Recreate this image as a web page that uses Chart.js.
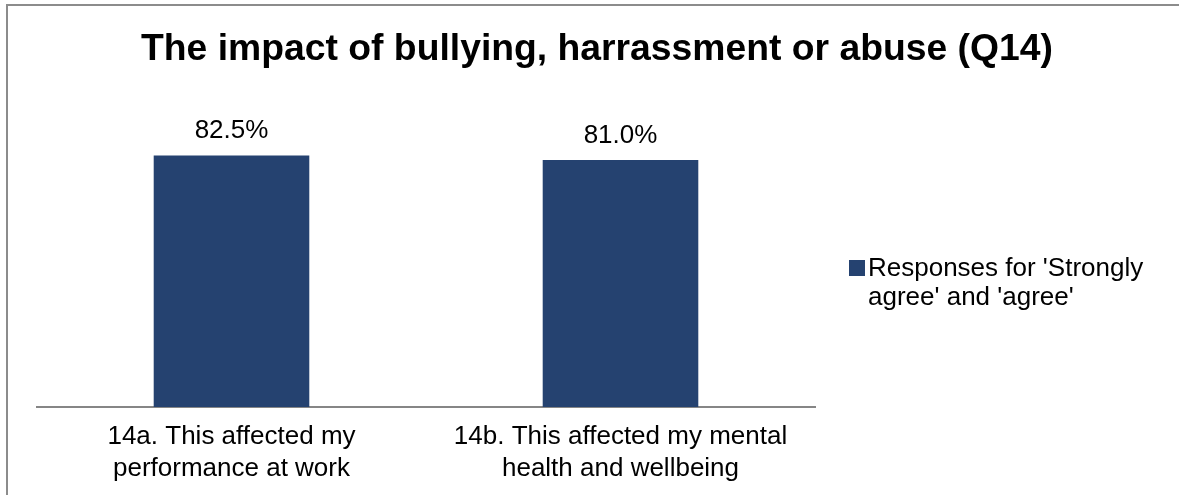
<!DOCTYPE html>
<html>
<head>
<meta charset="utf-8">
<script src="https://cdn.jsdelivr.net/npm/chart.js@4.4.1/dist/chart.umd.min.js"></script>
<style>
  html, body { margin: 0; padding: 0; background: #ffffff; }
  #wrap { width: 1179px; height: 495px; }
</style>
</head>
<body>
<div id="wrap"><canvas id="chart" width="1179" height="495"></canvas></div>
<script>
// Survey question Q14: share answering 'Strongly agree' or 'agree'
const titleText = "The impact of bullying, harrassment or abuse (Q14)";
const categories = [
  ["14a. This affected my", "performance at work"],
  ["14b. This affected my mental", "health and wellbeing"]
];
const seriesName = "Responses for 'Strongly agree' and 'agree'";
const legendLines = ["Responses for 'Strongly", "agree' and 'agree'"];
const agreeShare = [82.5, 81.0];
const yRange = [0, 100];

const FONT = '"Liberation Sans", Arial, Helvetica, sans-serif';
const BAR_COLOR = '#254270';

// White background and the outer frame of the chart box
const framePlugin = {
  id: 'frame',
  beforeDraw(chart) {
    const ctx = chart.ctx;
    ctx.save();
    ctx.fillStyle = '#ffffff';
    ctx.fillRect(0, 0, chart.width, chart.height);
    ctx.strokeStyle = '#8c8c8c';
    ctx.lineWidth = 2;
    ctx.strokeRect(7, 5, chart.width + 20, chart.height + 20);
    ctx.restore();
  }
};

// Heading, centred over the whole chart box
const headingPlugin = {
  id: 'heading',
  afterDraw(chart) {
    const ctx = chart.ctx;
    ctx.save();
    ctx.font = 'bold 37.3px ' + FONT;
    ctx.fillStyle = '#000000';
    ctx.textAlign = 'center';
    ctx.textBaseline = 'alphabetic';
    ctx.fillText(titleText, 597, 60);
    ctx.restore();
  }
};

// Percentage printed above each bar
const valueLabelPlugin = {
  id: 'valueLabels',
  afterDatasetsDraw(chart) {
    const ctx = chart.ctx;
    const meta = chart.getDatasetMeta(0);
    const data = chart.data.datasets[0].data;
    ctx.save();
    ctx.font = '26px ' + FONT;
    ctx.fillStyle = '#000000';
    ctx.textAlign = 'center';
    ctx.textBaseline = 'alphabetic';
    meta.data.forEach((bar, i) => {
      ctx.fillText(data[i].toFixed(1) + '%', bar.x, bar.y - 17);
    });
    ctx.restore();
  }
};

// Series key on the right, wrapped over two lines
const sideLegendPlugin = {
  id: 'sideLegend',
  afterDraw(chart) {
    const ctx = chart.ctx;
    const ds = chart.data.datasets[0];
    ctx.save();
    ctx.fillStyle = ds.backgroundColor;
    ctx.fillRect(849, 260, 16, 16);
    ctx.font = '26px ' + FONT;
    ctx.fillStyle = '#000000';
    ctx.textAlign = 'left';
    ctx.textBaseline = 'alphabetic';
    legendLines.forEach((line, i) => {
      ctx.fillText(line, 868, 276 + i * 29);
    });
    ctx.restore();
  }
};

new Chart(document.getElementById('chart'), {
  type: 'bar',
  data: {
    labels: categories,
    datasets: [{
      label: seriesName,
      data: agreeShare,
      backgroundColor: BAR_COLOR,
      borderWidth: 0,
      barPercentage: 0.4,
      categoryPercentage: 1.0
    }]
  },
  options: {
    responsive: false,
    animation: false,
    events: [],
    layout: { padding: { left: 37, right: 364, top: 102, bottom: -4 } },
    plugins: {
      legend: { display: false },
      title: { display: false },
      tooltip: { enabled: false }
    },
    scales: {
      x: {
        grid: { display: false, drawTicks: false },
        border: { display: true, color: '#868686', width: 2 },
        ticks: {
          color: '#000000',
          font: { family: FONT, size: 26, lineHeight: 1.23 },
          padding: 14,
          maxRotation: 0,
          autoSkip: false
        }
      },
      y: {
        display: false,
        min: yRange[0],
        max: yRange[1]
      }
    }
  },
  plugins: [framePlugin, headingPlugin, valueLabelPlugin, sideLegendPlugin]
});
</script>
</body>
</html>
